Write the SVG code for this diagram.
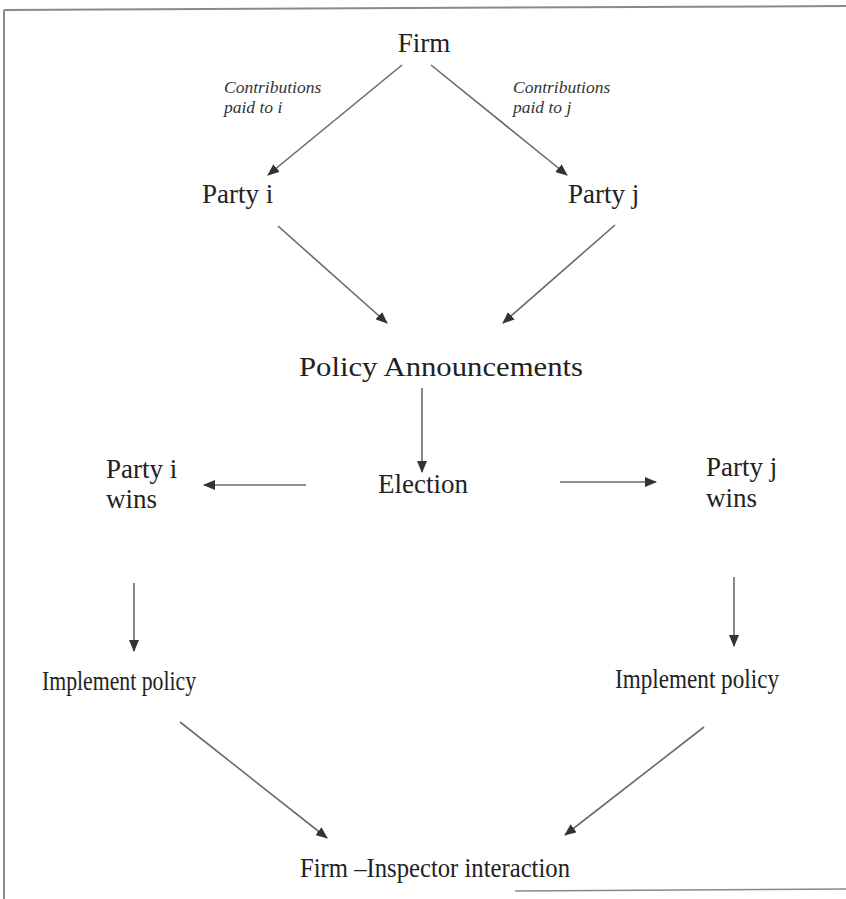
<svg xmlns="http://www.w3.org/2000/svg" width="846" height="899" viewBox="0 0 846 899">
<defs>
<style>
.t{font-family:"Liberation Serif","Times New Roman",serif;font-size:27px;fill:#222;}
.c{font-family:"Liberation Serif","Times New Roman",serif;font-size:17.5px;font-style:italic;fill:#333;}
.e{stroke:#6a6a6a;stroke-width:1.6;fill:none;marker-end:url(#ah);}
.f{stroke:#8a8a8a;fill:none;}
</style>
<marker id="ah" viewBox="0 0 12 10" refX="11" refY="5" markerWidth="12" markerHeight="10" markerUnits="userSpaceOnUse" orient="auto">
<path d="M0,0 L12,5 L0,10 Z" fill="#333"/>
</marker>
</defs>
<rect width="846" height="899" fill="#fff"/>
<g id="frame">
<line class="f" x1="4" y1="10" x2="846" y2="6" stroke-width="2"/>
<line class="f" x1="4" y1="10" x2="4" y2="899" stroke-width="2"/>
<line class="f" x1="515" y1="891" x2="846" y2="889" stroke-width="1.5" stroke="#bbb"/>
</g>
<g id="connectors">
<line class="e" x1="402" y1="65" x2="268" y2="175"/>
<line class="e" x1="431" y1="65" x2="567" y2="175"/>
<line class="e" x1="278" y1="226" x2="387" y2="323"/>
<line class="e" x1="615" y1="225" x2="503" y2="323"/>
<line class="e" x1="422" y1="388" x2="422" y2="472"/>
<line class="e" x1="306" y1="485" x2="204" y2="485"/>
<line class="e" x1="560" y1="482" x2="656" y2="482"/>
<line class="e" x1="134" y1="583" x2="134" y2="651"/>
<line class="e" x1="734" y1="577" x2="734" y2="646"/>
<line class="e" x1="180" y1="722" x2="327" y2="838"/>
<line class="e" x1="704" y1="727" x2="565" y2="835"/>
</g>
<g id="firm"><text class="t" x="424" y="52" text-anchor="middle">Firm</text></g>
<g id="label-i"><text class="c" x="224" y="93">Contributions</text><text class="c" x="224" y="113">paid to i</text></g>
<g id="label-j"><text class="c" x="513" y="93">Contributions</text><text class="c" x="513" y="113">paid to j</text></g>
<g id="party-i"><text class="t" x="202" y="203">Party i</text></g>
<g id="party-j"><text class="t" x="568" y="203">Party j</text></g>
<g id="policy-announcements"><text class="t" x="299" y="376" textLength="284" lengthAdjust="spacingAndGlyphs">Policy Announcements</text></g>
<g id="election"><text class="t" x="378" y="493">Election</text></g>
<g id="party-i-wins"><text class="t" x="106" y="478">Party i</text><text class="t" x="106" y="508">wins</text></g>
<g id="party-j-wins"><text class="t" x="706" y="476">Party j</text><text class="t" x="706" y="507">wins</text></g>
<g id="implement-i"><text class="t" x="42" y="690" textLength="154" lengthAdjust="spacingAndGlyphs">Implement policy</text></g>
<g id="implement-j"><text class="t" x="615" y="688" textLength="164" lengthAdjust="spacingAndGlyphs">Implement policy</text></g>
<g id="firm-inspector"><text class="t" x="300" y="877" textLength="270" lengthAdjust="spacingAndGlyphs">Firm –Inspector interaction</text></g>
</svg>
